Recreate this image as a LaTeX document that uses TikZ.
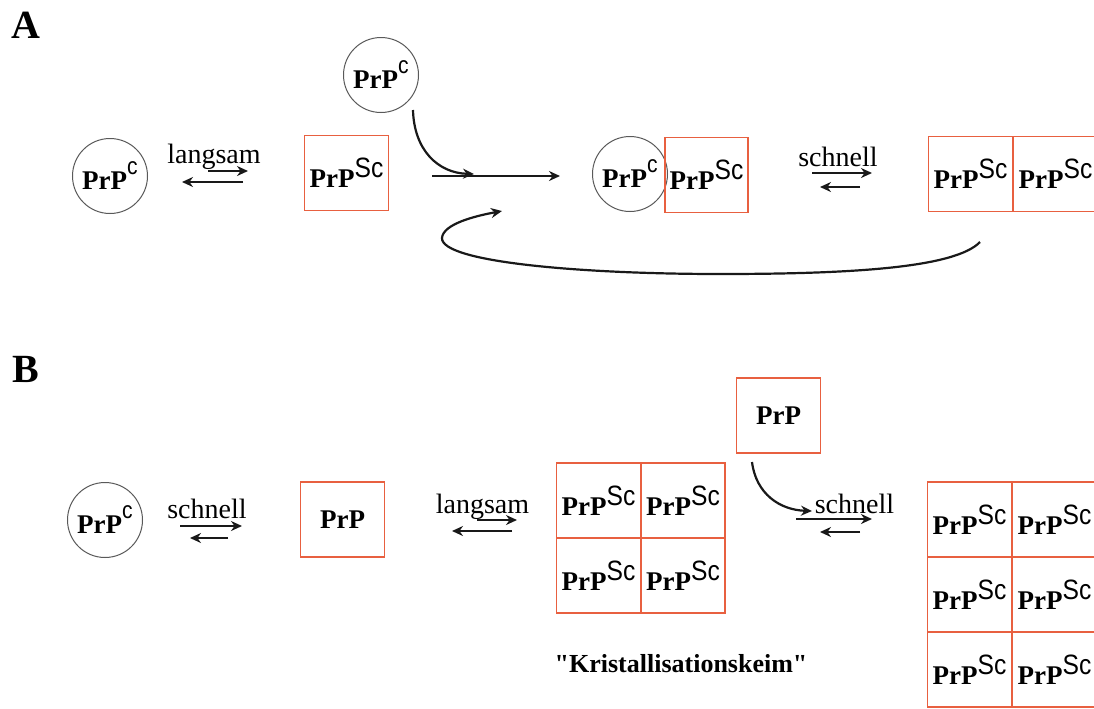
\documentclass[tikz,border=0pt]{standalone}
\usepackage{fontspec}
\setmainfont{Liberation Serif}
\newfontfamily\supfont[FakeStretch=0.88]{Liberation Sans}
\usetikzlibrary{arrows.meta}
\usepackage{xcolor}
\definecolor{scred}{RGB}{232,96,64}
\newcommand{\prp}{{\bfseries PrP}}
\newcommand{\prpsc}{{\bfseries PrP}\raisebox{5pt}{\supfont\fontsize{14}{14}\selectfont Sc}}
\newcommand{\prpc}{{\bfseries PrP}\raisebox{7.5pt}{\supfont\fontsize{12}{12}\selectfont c}}

\begin{document}
\begin{tikzpicture}[x=0.5pt,y=-0.5pt,thick]
    \tikzstyle{cform}=[circle,draw=black!65,line width=0.5pt,minimum size=37.5pt,inner sep=0pt,font=\fontsize{13.5}{15}\selectfont]
    \tikzstyle{scform}=[rectangle,draw=scred,line width=0.7pt,minimum width=42pt,minimum height=37.5pt,inner sep=0pt,font=\fontsize{13.5}{15}\selectfont]
    \tikzstyle{rate}=[anchor=base,inner sep=0pt,font=\fontsize{14}{16}\selectfont]
    \tikzstyle{react}=[line width=1.1pt,black!90,-{Stealth[length=5.5pt,width=5pt]}]
    \tikzstyle{panel}=[inner sep=0pt,font=\fontsize{20}{20}\selectfont\bfseries]

    \useasboundingbox (0,0) rectangle (1094,708);
    \clip (0,0) rectangle (1094,708);

    % A: nucleated polymerisation
    \node [panel] (labA) at (26,25) {A};
    \node [cform] (cA) at (110,176) {\prpc};
    \node [rate] (slowA) at (214,163) {langsam};
    \node [scform] (scA) at (346.5,173) {\prpsc};
    \node [cform] (cAtop) at (381,75) {\prpc};
    \node [cform] (cAbound) at (630,174) {\prpc};
    \node [scform, minimum width=41.5pt] (scAbound) at (706.5,175) {\prpsc};
    \node [rate] (fastA) at (838,166) {schnell};
    \node [scform] (scAa) at (970.5,174) {\prpsc};
    \node [scform] (scAb) at (1055.5,174) {\prpsc};

    \coordinate (slowAr0) at (208,171);  \coordinate (slowAr1) at (248,171);
    \coordinate (slowAl0) at (243,182);  \coordinate (slowAl1) at (182,182);
    \coordinate (fastAr0) at (812,173);  \coordinate (fastAr1) at (872,173);
    \coordinate (fastAl0) at (860,187);  \coordinate (fastAl1) at (820,187);
    \coordinate (joinA0) at (432,176);   \coordinate (joinA1) at (560,176);
    \coordinate (addA0) at (413,110);    \coordinate (addA1) at (474,174);
    \coordinate (backA0) at (980,242);   \coordinate (backA1) at (502,211);

    \draw [react] (slowAr0) -- (slowAr1);
    \draw [react] (slowAl0) -- (slowAl1);
    \draw [react] (fastAr0) -- (fastAr1);
    \draw [react] (fastAl0) -- (fastAl1);
    \draw [react] (joinA0) -- (joinA1);
    \draw [react] (addA0) .. controls (414,150) and (438,173) .. (addA1);
    \draw [react] (backA0) .. controls (955,268) and (850,274) .. (720,274)
        .. controls (580,274) and (441,262) .. (442,238)
        .. controls (443,224) and (475,216) .. (backA1);

    % B: seeded crystallisation
    \node [panel] (labB) at (26,369) {B};
    \node [cform] (cB) at (105,520) {\prpc};
    \node [rate] (fastB) at (207,518) {schnell};
    \node [scform] (pB) at (342.5,519.5) {\prp};
    \node [rate] (slowB) at (482.5,513) {langsam};
    \node [scform] (seedA) at (598.5,500.5) {\prpsc};
    \node [scform] (seedB) at (683,500.5) {\prpsc};
    \node [scform] (seedC) at (598.5,575.5) {\prpsc};
    \node [scform] (seedD) at (683,575.5) {\prpsc};
    \node [rate, font=\fontsize{13}{15}\selectfont\bfseries] (seedlab) at (681,672) {\textquotedbl Kristallisationskeim\textquotedbl};
    \node [scform] (pBtop) at (778.5,415.5) {\prp};
    \node [rate] (fastBb) at (854.5,513) {schnell};
    \node [scform] (fibA) at (969.5,519.5) {\prpsc};
    \node [scform] (fibB) at (1054.5,519.5) {\prpsc};
    \node [scform] (fibC) at (969.5,594.5) {\prpsc};
    \node [scform] (fibD) at (1054.5,594.5) {\prpsc};
    \node [scform] (fibE) at (969.5,669.5) {\prpsc};
    \node [scform] (fibF) at (1054.5,669.5) {\prpsc};

    \coordinate (fastBr0) at (180,526);  \coordinate (fastBr1) at (242,526);
    \coordinate (fastBl0) at (228,538);  \coordinate (fastBl1) at (190,538);
    \coordinate (slowBr0) at (477,520);  \coordinate (slowBr1) at (517,520);
    \coordinate (slowBl0) at (512,531);  \coordinate (slowBl1) at (452,531);
    \coordinate (fastBbr0) at (796,519); \coordinate (fastBbr1) at (872,519);
    \coordinate (fastBbl0) at (860,532); \coordinate (fastBbl1) at (820,532);
    \coordinate (addB0) at (752,462);    \coordinate (addB1) at (812,511);

    \draw [react] (fastBr0) -- (fastBr1);
    \draw [react] (fastBl0) -- (fastBl1);
    \draw [react] (slowBr0) -- (slowBr1);
    \draw [react] (slowBl0) -- (slowBl1);
    \draw [react] (fastBbr0) -- (fastBbr1);
    \draw [react] (fastBbl0) -- (fastBbl1);
    \draw [react] (addB0) .. controls (756,494) and (780,510) .. (addB1);
\end{tikzpicture}
\end{document}
